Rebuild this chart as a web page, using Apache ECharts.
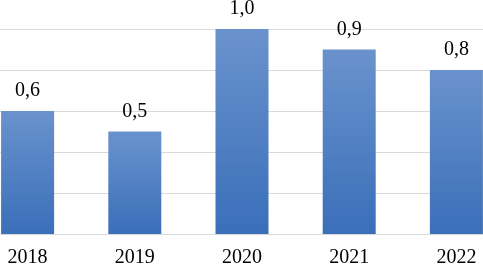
<!DOCTYPE html>
<html>
<head>
<meta charset="utf-8">
<script src="https://cdn.jsdelivr.net/npm/echarts@6/dist/echarts.min.js"></script>
<style>
  html, body { margin: 0; padding: 0; background: #fff; }
  #chart { width: 483px; height: 267px; }
</style>
</head>
<body>
<div id="chart"></div>
<script>
const years = ['2018', '2019', '2020', '2021', '2022']
const values = [0.6, 0.5, 1.0, 0.9, 0.8]

const chart = echarts.init(document.getElementById('chart'))

const fontFamily = '"Liberation Serif", "Times New Roman", serif'

chart.setOption({
  animation: false,
  grid: {
    left: -26,
    right: -27,
    top: 29,
    bottom: 33,
    outerBoundsMode: 'none',
    containLabel: false
  },
  xAxis: {
    type: 'category',
    data: years,
    axisLine: { lineStyle: { color: '#d9d9d9', width: 1 } },
    axisTick: { show: false },
    axisLabel: {
      color: '#000',
      fontFamily,
      fontSize: 20,
      margin: 14
    }
  },
  yAxis: {
    type: 'value',
    min: 0,
    max: 1.0,
    interval: 0.2,
    axisLabel: { show: false },
    axisLine: { show: false },
    axisTick: { show: false },
    splitLine: { lineStyle: { color: '#d9d9d9', width: 1 } }
  },
  series: [{
    type: 'bar',
    data: values,
    barWidth: 53,
    itemStyle: {
      color: new echarts.graphic.LinearGradient(0, 0, 0, 1, [
        { offset: 0, color: '#6a92cd' },
        { offset: 1, color: '#3a6fb9' }
      ])
    },
    label: {
      show: true,
      position: 'top',
      distance: 10,
      color: '#000',
      fontFamily,
      fontSize: 20,
      formatter: p => p.value.toFixed(1).replace('.', ',')
    }
  }]
})
</script>
</body>
</html>
